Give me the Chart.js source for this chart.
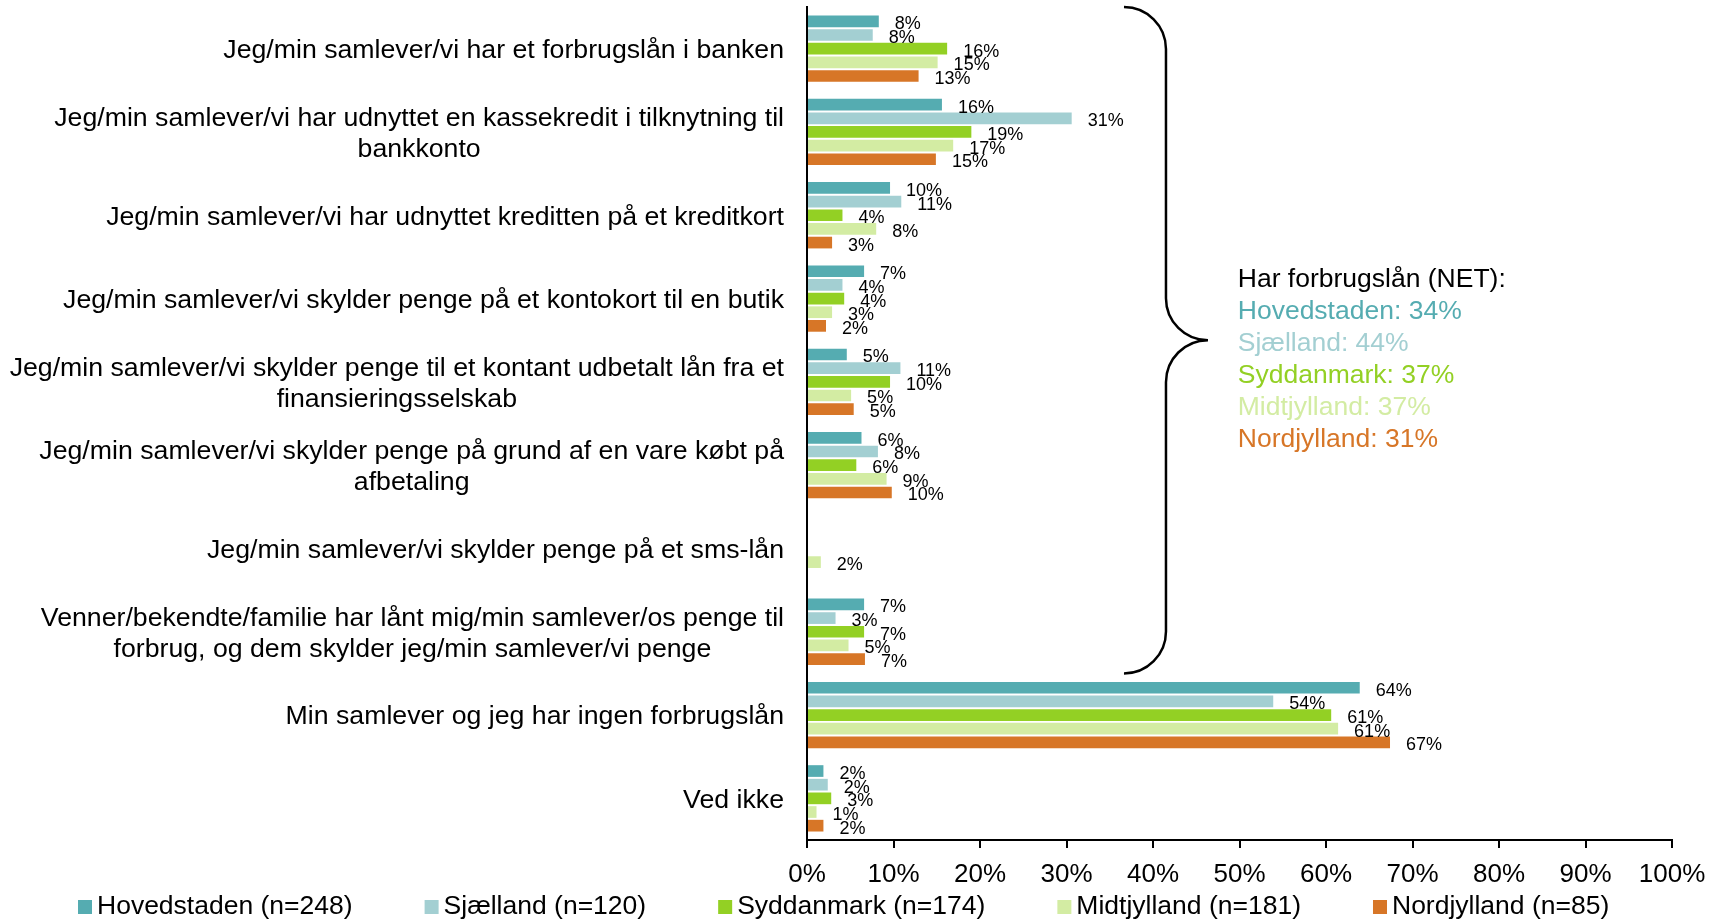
<!DOCTYPE html>
<html>
<head>
<meta charset="utf-8">
<script src="https://cdn.jsdelivr.net/npm/chart.js@4.4.0/dist/chart.umd.min.js"></script>
<style>
  html, body { margin: 0; padding: 0; background: #fff; }
</style>
</head>
<body>
<canvas id="chart" width="1723" height="920"></canvas>
<script>
// Data
const categories = [
    'Jeg/min samlever/vi har et forbrugslån i banken',
    ['Jeg/min samlever/vi har udnyttet en kassekredit i tilknytning til', 'bankkonto'],
    'Jeg/min samlever/vi har udnyttet kreditten på et kreditkort',
    'Jeg/min samlever/vi skylder penge på et kontokort til en butik',
    ['Jeg/min samlever/vi skylder penge til et kontant udbetalt lån fra et', 'finansieringsselskab'],
    ['Jeg/min samlever/vi skylder penge på grund af en vare købt på', 'afbetaling'],
    'Jeg/min samlever/vi skylder penge på et sms-lån',
    ['Venner/bekendte/familie har lånt mig/min samlever/os penge til', 'forbrug, og dem skylder jeg/min samlever/vi penge'],
    'Min samlever og jeg har ingen forbrugslån',
    'Ved ikke'
];
const seriesNames = ['Hovedstaden (n=248)', 'Sjælland (n=120)', 'Syddanmark (n=174)', 'Midtjylland (n=181)', 'Nordjylland (n=85)'];
const hovedstaden = [8.3, 15.6, 9.6, 6.6, 4.6, 6.3, 0, 6.6, 63.9, 1.9];
const sjaelland   = [7.6, 30.6, 10.9, 4.1, 10.8, 8.2, 0, 3.3, 53.9, 2.4];
const syddanmark  = [16.2, 19.0, 4.1, 4.3, 9.6, 5.7, 0, 6.6, 60.6, 2.8];
const midtjylland = [15.1, 16.9, 8.0, 2.9, 5.1, 9.2, 1.6, 4.8, 61.4, 1.1];
const nordjylland = [12.9, 14.9, 2.9, 2.2, 5.4, 9.8, 0, 6.7, 67.4, 1.9];
const xTicks = [0, 10, 20, 30, 40, 50, 60, 70, 80, 90, 100];

// NET annotation
const netTitle = 'Har forbrugslån (NET):';
const netRegions = ['Hovedstaden', 'Sjælland', 'Syddanmark', 'Midtjylland', 'Nordjylland'];
const netValues = [34, 44, 37, 37, 31];
const netLastCategory = 7; // brace covers categories 0..7

const colors = ['#55ACB1', '#A3CFD2', '#93D024', '#D3ECA3', '#D77627'];
const FONT = '"Liberation Sans", Arial, sans-serif';

// Category labels: lines centred on each other, block right-aligned to the axis
const categoryLabels = {
    id: 'categoryLabels',
    afterDraw(chart) {
        const { ctx, chartArea } = chart;
        const y = chart.scales.y;
        const right = chartArea.left - 23;
        const lh = 31;
        ctx.save();
        ctx.font = '26.7px ' + FONT;
        ctx.fillStyle = '#000';
        ctx.textAlign = 'center';
        ctx.textBaseline = 'middle';
        categories.forEach((cat, i) => {
            const lines = Array.isArray(cat) ? cat : [cat];
            const maxW = Math.max(...lines.map(l => ctx.measureText(l).width));
            const cx = right - maxW / 2;
            const y0 = y.getPixelForValue(i) + 2 - (lines.length - 1) * lh / 2;
            lines.forEach((l, k) => ctx.fillText(l, cx, y0 + k * lh));
        });
        ctx.restore();
    }
};

// Value labels right of each bar
const valueLabels = {
    id: 'valueLabels',
    afterDatasetsDraw(chart) {
        const { ctx } = chart;
        ctx.save();
        ctx.font = '18px ' + FONT;
        ctx.fillStyle = '#000';
        ctx.textAlign = 'left';
        ctx.textBaseline = 'middle';
        chart.data.datasets.forEach((ds, di) => {
            chart.getDatasetMeta(di).data.forEach((bar, i) => {
                const v = ds.data[i];
                if (!v) return;
                ctx.fillText(Math.round(v) + '%', bar.x + 16, bar.y + 3);
            });
        });
        ctx.restore();
    }
};

// Curly brace + NET text
const netBrace = {
    id: 'netBrace',
    afterDraw(chart) {
        const { ctx, chartArea } = chart;
        const x = chart.scales.x, y = chart.scales.y;
        const top = chartArea.top;
        const bottom = (y.getPixelForValue(netLastCategory) + y.getPixelForValue(netLastCategory + 1)) / 2;
        const mid = (top + bottom) / 2;
        const xv = x.getPixelForValue(41.5);
        const r = 42;
        ctx.save();
        ctx.strokeStyle = '#000';
        ctx.lineWidth = 2.5;
        ctx.beginPath();
        ctx.arc(xv - r, top + r, r, -Math.PI / 2, 0);
        ctx.lineTo(xv, mid - r);
        ctx.arc(xv + r, mid - r, r, Math.PI, Math.PI / 2, true);
        ctx.arc(xv + r, mid + r, r, -Math.PI / 2, Math.PI, true);
        ctx.lineTo(xv, bottom - r);
        ctx.arc(xv - r, bottom - r, r, 0, Math.PI / 2);
        ctx.stroke();

        const tx = x.getPixelForValue(49.8);
        const lh = 32;
        const y0 = mid - 61;
        ctx.font = '26.5px ' + FONT;
        ctx.textAlign = 'left';
        ctx.textBaseline = 'middle';
        ctx.fillStyle = '#000';
        ctx.fillText(netTitle, tx, y0);
        netRegions.forEach((name, i) => {
            ctx.fillStyle = colors[i];
            ctx.fillText(name + ': ' + netValues[i] + '%', tx, y0 + (i + 1) * lh);
        });
        ctx.restore();
    }
};

// Legend drawn along the bottom
const bottomLegend = {
    id: 'bottomLegend',
    afterDraw(chart) {
        const { ctx } = chart;
        const box = 14, gapText = 5, gapItem = 72;
        const yc = 907;
        let xPos = 78;
        ctx.save();
        ctx.font = '26.5px ' + FONT;
        ctx.textAlign = 'left';
        ctx.textBaseline = 'middle';
        chart.data.datasets.forEach(ds => {
            ctx.fillStyle = ds.backgroundColor;
            ctx.fillRect(xPos, yc - box / 2, box, box);
            ctx.fillStyle = '#000';
            ctx.fillText(ds.label, xPos + box + gapText, yc);
            xPos += box + gapText + ctx.measureText(ds.label).width + gapItem;
        });
        ctx.restore();
    }
};

const seriesData = [hovedstaden, sjaelland, syddanmark, midtjylland, nordjylland];

new Chart(document.getElementById('chart'), {
    type: 'bar',
    data: {
        labels: categories.map((c, i) => i),
        datasets: seriesData.map((d, i) => ({
            label: seriesNames[i],
            data: d,
            backgroundColor: colors[i],
            borderWidth: 0,
            barPercentage: 0.856,
            categoryPercentage: 0.82
        }))
    },
    options: {
        indexAxis: 'y',
        responsive: false,
        animation: false,
        layout: { padding: { top: 7, right: 51, bottom: 0, left: 0 } },
        plugins: {
            legend: { display: false },
            tooltip: { enabled: false }
        },
        scales: {
            x: {
                min: 0,
                max: 100,
                afterBuildTicks: scale => { scale.ticks = xTicks.map(v => ({ value: v })); },
                afterFit: scale => { scale.height = 80; },
                border: { display: true, color: '#000', width: 2 },
                grid: { drawOnChartArea: false, drawTicks: true, tickLength: 8, color: '#000', lineWidth: 2 },
                ticks: {
                    callback: v => v + '%',
                    color: '#000',
                    font: { family: FONT, size: 26 },
                    padding: 11
                }
            },
            y: {
                afterFit: scale => { scale.width = 807; },
                border: { display: true, color: '#000', width: 2 },
                grid: { display: false },
                ticks: { display: false }
            }
        }
    },
    plugins: [categoryLabels, valueLabels, netBrace, bottomLegend]
});
</script>
</body>
</html>
